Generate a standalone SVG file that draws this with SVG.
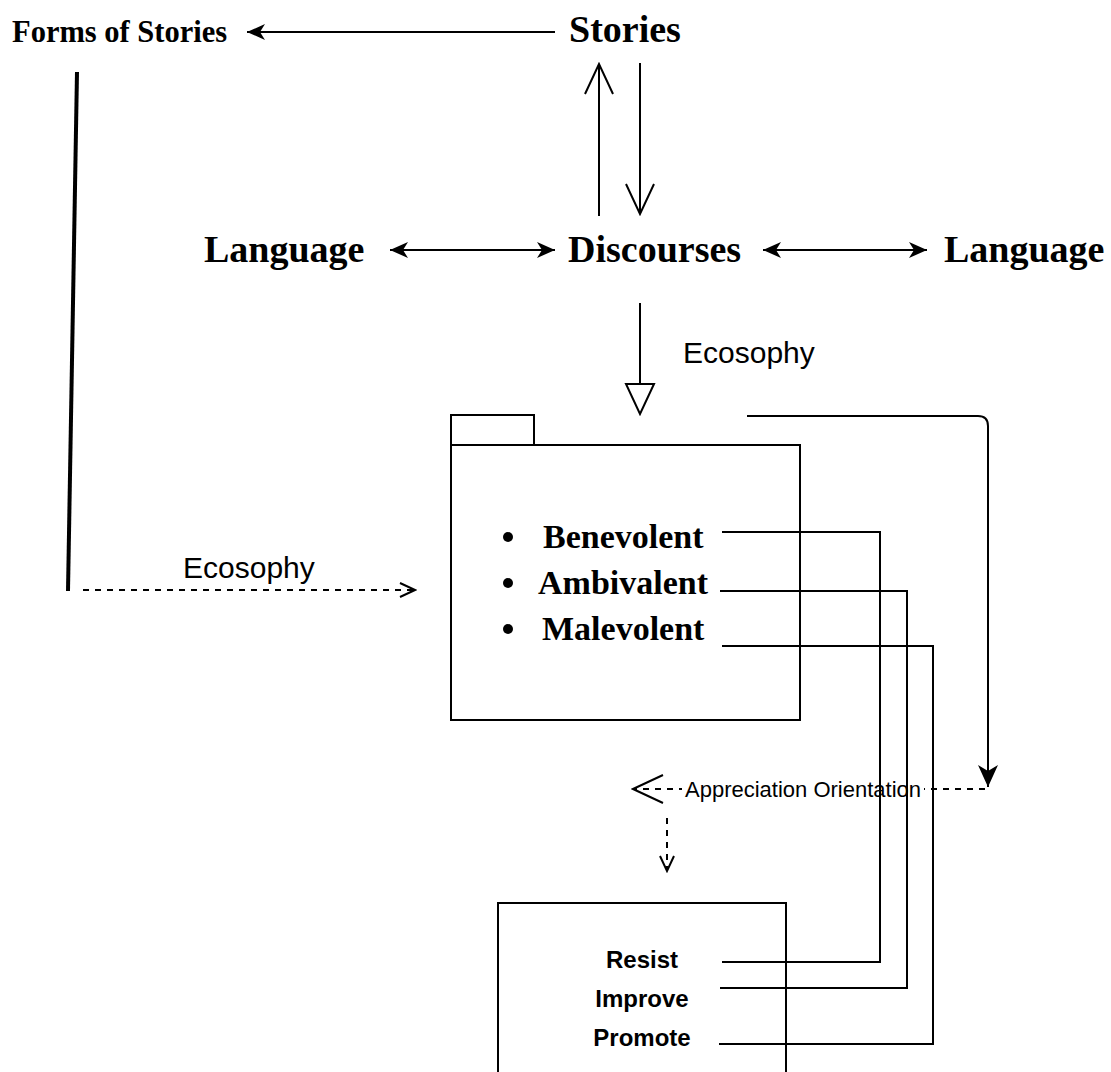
<svg xmlns="http://www.w3.org/2000/svg" width="1111" height="1072" viewBox="0 0 1111 1072">
<style>
.serif{font-family:"Liberation Serif","Times New Roman",serif;font-weight:bold;fill:#000}
.sans{font-family:"Liberation Sans",Arial,Helvetica,sans-serif;fill:#000}
.ln{fill:none;stroke:#000;stroke-width:2}
.dash{fill:none;stroke:#000;stroke-width:2;stroke-dasharray:6 6}
.box{fill:#fff;stroke:#000;stroke-width:2}
</style>
<defs>
<marker id="classic" viewBox="0 0 18 16" refX="18" refY="8" markerWidth="18" markerHeight="16" markerUnits="userSpaceOnUse" orient="auto-start-reverse">
<path d="M0,0 L18,8 L0,16 L5,8 Z" fill="#000"/>
</marker>
<marker id="classicBig" viewBox="0 0 22 20" refX="22" refY="10" markerWidth="22" markerHeight="20" markerUnits="userSpaceOnUse" orient="auto">
<path d="M0,0 L22,10 L0,20 L6,10 Z" fill="#000"/>
</marker>
<marker id="openBig" viewBox="-2 -2 34 32" refX="30" refY="14" markerWidth="34" markerHeight="32" markerUnits="userSpaceOnUse" orient="auto">
<path d="M0,0 L30,14 L0,28" fill="none" stroke="#000" stroke-width="2"/>
</marker>
<marker id="openSmall" viewBox="-2 -2 19 18" refX="15" refY="7" markerWidth="19" markerHeight="18" markerUnits="userSpaceOnUse" orient="auto">
<path d="M0,0 L15,7 L0,14" fill="none" stroke="#000" stroke-width="2"/>
</marker>
<marker id="block" viewBox="-2 -2 34 32" refX="30" refY="14" markerWidth="34" markerHeight="32" markerUnits="userSpaceOnUse" orient="auto">
<path d="M0,0 L30,14 L0,28 Z" fill="#fff" stroke="#000" stroke-width="2"/>
</marker>
</defs>
<rect width="1111" height="1072" fill="#fff"/>

<g id="node-forms"><text class="serif" x="12" y="42" font-size="30.5">Forms of Stories</text></g>
<g id="node-stories"><text class="serif" x="569" y="42" font-size="38">Stories</text></g>
<g id="node-language-left"><text class="serif" x="204" y="262" font-size="38">Language</text></g>
<g id="node-discourses"><text class="serif" x="568" y="262" font-size="38">Discourses</text></g>
<g id="node-language-right"><text class="serif" x="944" y="262" font-size="38">Language</text></g>

<g id="node-package">
<rect class="box" x="451" y="415" width="83" height="30"/>
<rect class="box" x="451" y="445" width="349" height="275"/>
<circle cx="508" cy="537" r="5"/>
<circle cx="508" cy="583" r="5"/>
<circle cx="508" cy="629" r="5"/>
<text class="serif" x="543" y="548" font-size="34">Benevolent</text>
<text class="serif" x="538" y="594" font-size="34">Ambivalent</text>
<text class="serif" x="542" y="640" font-size="34">Malevolent</text>
</g>

<g id="node-actions">
<rect class="box" x="498" y="903" width="288" height="200"/>
<text class="sans" x="642" y="968" font-size="24" font-weight="bold" text-anchor="middle">Resist</text>
<text class="sans" x="642" y="1007" font-size="24" font-weight="bold" text-anchor="middle">Improve</text>
<text class="sans" x="642" y="1046" font-size="24" font-weight="bold" text-anchor="middle">Promote</text>
</g>

<g id="connectors">
<line class="ln" x1="555" y1="32" x2="247" y2="32" marker-end="url(#classic)"/>
<line class="ln" x1="599" y1="216" x2="599" y2="64" marker-end="url(#openBig)"/>
<line class="ln" x1="640" y1="63" x2="640" y2="214" marker-end="url(#openBig)"/>
<line class="ln" x1="390" y1="250" x2="555" y2="250" marker-start="url(#classic)" marker-end="url(#classic)"/>
<line class="ln" x1="763" y1="250" x2="927" y2="250" marker-start="url(#classic)" marker-end="url(#classic)"/>
<line class="ln" x1="640" y1="303" x2="640" y2="414" marker-end="url(#block)"/>
<text class="sans" x="683" y="363" font-size="30">Ecosophy</text>
<line x1="77" y1="72" x2="68" y2="591" stroke="#000" stroke-width="4"/>
<line class="dash" x1="83" y1="590" x2="415" y2="590" marker-end="url(#openSmall)"/>
<text class="sans" x="183" y="578" font-size="30">Ecosophy</text>
<path class="ln" d="M747,416 H978 Q988,416 988,426 V787" marker-end="url(#classicBig)"/>
<line class="dash" x1="985" y1="789" x2="633" y2="789" marker-end="url(#openBig)"/>
<rect x="682" y="776" width="242" height="26" fill="#fff"/>
<text class="sans" x="803" y="797" font-size="22" text-anchor="middle">Appreciation Orientation</text>
<line class="dash" x1="667" y1="818" x2="667" y2="871" marker-end="url(#openSmall)"/>
<path class="ln" d="M722,532 H880 V962 H722"/>
<path class="ln" d="M720,591 H907 V988 H720"/>
<path class="ln" d="M722,646 H933 V1044 H719"/>
</g>
</svg>
